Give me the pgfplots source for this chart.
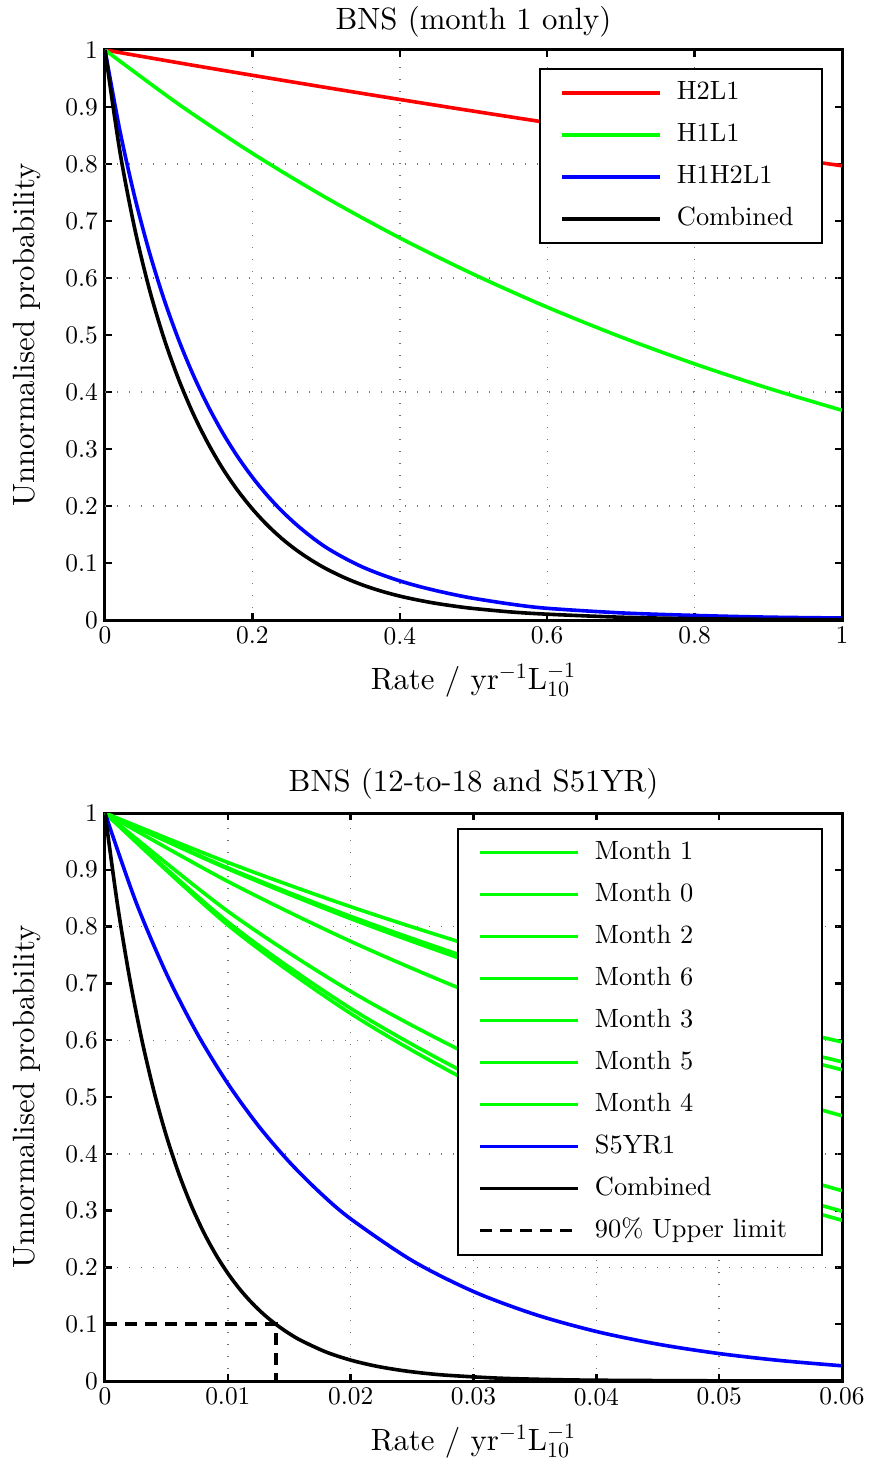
\documentclass[border=0pt]{standalone}
\usepackage{fontspec}
\setmainfont{lmroman10-regular}[Extension=.otf]
\usepackage{pgfplots}
\pgfplotsset{compat=1.18}
\definecolor{mred}{rgb}{1,0,0}
\definecolor{mgreen}{rgb}{0,1,0}
\definecolor{mblue}{rgb}{0,0,1}
\newcommand{\tickfont}{\fontsize{12.7}{15}\selectfont}
\newcommand{\labfont}{\fontsize{15.4}{18}\selectfont}
\newcommand{\legfont}{\fontsize{13.2}{16}\selectfont}
\pgfplotsset{
  mstyle/.style={
    scale only axis, width=368.5pt,
    axis line style={line width=1.5pt},
    tick align=inside,
    major tick length=3.5pt,
    every tick/.style={black,line width=1.2pt},
    tick label style={font=\tickfont},
    xlabel style={font=\labfont, at={([yshift=-34.5pt]axis description cs:0.5,0)}, anchor=base},
    ylabel style={font=\labfont, at={([xshift=-35pt]axis description cs:0,0.5)}, anchor=base, rotate=0},
    title style={font=\labfont, anchor=base},
    xmajorgrids,
    grid style={line width=0.7pt, black!55, dash pattern=on 0.7pt off 5.3pt},
    extra y ticks={0.2,0.4,0.6,0.8},
    extra y tick labels={},
    extra y tick style={grid=major, major tick length=0pt},
    ymin=0, ymax=1,
    ytick={0,0.1,0.2,0.3,0.4,0.5,0.6,0.7,0.8,0.9,1},
    yticklabels={0,0.1,0.2,0.3,0.4,0.5,0.6,0.7,0.8,0.9,1},
    ylabel={Unnormalised probability},
    xlabel={Rate / yr$^{-1}$L$_{10}^{-1}$},
    legend cell align=left,
    legend image code/.code={\draw[##1] (0pt,0pt) -- (49pt,0pt);},
    legend style={draw=black, line width=0.9pt, font=\legfont,
      inner xsep=10pt, inner ysep=5.25pt,
      row sep=7.5pt,
      nodes={inner sep=0pt, text height=10pt, text depth=3.5pt},
      /tikz/every odd column/.append style={column sep=7.5pt}},
  }
}
\begin{document}
\begin{tikzpicture}
\path[use as bounding box] (-52.5pt,-420.5pt) rectangle (382pt,310pt);
\begin{axis}[mstyle, height=285pt, at={(0pt,0pt)}, anchor=south west,
  title={BNS (month 1 only)},
  title style={at={([yshift=4pt]axis description cs:0.5,1)}},
  xmin=0, xmax=1,
  xtick={0,0.2,0.4,0.6,0.8,1}, xticklabels={0,0.2,0.4,0.6,0.8,1},
  legend style={at={(0.974,0.968)}, anchor=north east,
    /tikz/every even column/.append style={text width=62.5pt}}]
\addplot[mred, line width=1.8pt, smooth] coordinates {
(0,1) (0.1,0.9775) (0.2,0.9556) (0.3,0.9342) (0.4,0.9132) (0.5,0.8927)
(0.6,0.8727) (0.7,0.8531) (0.8,0.8339) (0.9,0.8152) (1.0,0.7969)};
\addlegendentry{H2L1}
\addplot[mgreen, line width=1.8pt, smooth] coordinates {
(0,1) (0.1,0.9048) (0.2,0.8187) (0.3,0.7408) (0.4,0.6703) (0.5,0.6065)
(0.6,0.5488) (0.7,0.4966) (0.8,0.4493) (0.9,0.4066) (1.0,0.3679)};
\addlegendentry{H1L1}
\addplot[mblue, line width=1.8pt, smooth] coordinates {
(0,1) (0.02,0.8598) (0.04,0.7439) (0.06,0.6463) (0.08,0.5630) (0.10,0.4913)
(0.12,0.4291) (0.14,0.3750) (0.16,0.3277) (0.18,0.2865) (0.20,0.2504)
(0.22,0.2188) (0.24,0.1911) (0.26,0.1670) (0.28,0.1458) (0.30,0.1273)
(0.325,0.1086) (0.35,0.0926) (0.375,0.0797) (0.40,0.0686) (0.425,0.0593)
(0.45,0.0513) (0.475,0.0442) (0.50,0.038) (0.55,0.028)
(0.60,0.0205) (0.70,0.0125) (0.80,0.008) (0.90,0.005) (1.00,0.0035)};
\addlegendentry{H1H2L1}
\addplot[black, line width=1.8pt, smooth] coordinates {
(0,1) (0.02,0.8235) (0.04,0.6885) (0.06,0.5813) (0.08,0.4942) (0.10,0.4219)
(0.12,0.3610) (0.14,0.3094) (0.16,0.2650) (0.18,0.2273) (0.20,0.1948)
(0.22,0.1668) (0.24,0.1428) (0.26,0.1224) (0.28,0.1050) (0.30,0.0899)
(0.325,0.0742) (0.35,0.0612) (0.375,0.0506) (0.40,0.0419) (0.425,0.0349)
(0.45,0.0290) (0.475,0.0242) (0.50,0.0202) (0.55,0.0142)
(0.60,0.0102) (0.70,0.0049) (0.80,0.0023) (0.90,0.0011) (1.00,0.0005)};
\addlegendentry{Combined}
\end{axis}
\begin{axis}[mstyle, height=284pt, at={(0pt,-380.5pt)}, anchor=south west,
  title={BNS (12-to-18 and S51YR)},
  title style={at={([yshift=5pt]axis description cs:0.5,1)}},
  xmin=0, xmax=0.06, scaled x ticks=false,
  xtick={0,0.01,0.02,0.03,0.04,0.05,0.06},
  xticklabels={0,0.01,0.02,0.03,0.04,0.05,0.06},
  legend style={at={(0.974,0.974)}, anchor=north east,
    /tikz/every even column/.append style={text width=103.5pt}}]
\addplot[mgreen, line width=1.8pt, smooth] coordinates {
(0,1) (0.01,0.9129) (0.02,0.835) (0.03,0.7655) (0.04,0.7032) (0.05,0.6473) (0.06,0.597)};
\addlegendentry{Month 1}
\addplot[mgreen, line width=1.8pt, smooth] coordinates {
(0,1) (0.01,0.9034) (0.02,0.818) (0.03,0.7422) (0.04,0.6750) (0.05,0.6152) (0.06,0.562)};
\addlegendentry{Month 0}
\addplot[mgreen, line width=1.8pt, smooth] coordinates {
(0,1) (0.01,0.9017) (0.02,0.814) (0.03,0.7359) (0.04,0.6662) (0.05,0.6039) (0.06,0.548)};
\addlegendentry{Month 2}
\addplot[mgreen, line width=1.8pt, smooth] coordinates {
(0,1) (0.01,0.8795) (0.02,0.774) (0.03,0.6815) (0.04,0.6005) (0.05,0.5294) (0.06,0.467)};
\addlegendentry{Month 6}
\addplot[mgreen, line width=1.8pt, smooth] coordinates {
(0,1) (0.01,0.8270) (0.02,0.686) (0.03,0.5709) (0.04,0.4765) (0.05,0.3990) (0.06,0.335)};
\addlegendentry{Month 3}
\addplot[mgreen, line width=1.8pt, smooth] coordinates {
(0,1) (0.01,0.8080) (0.02,0.656) (0.03,0.5352) (0.04,0.4386) (0.05,0.3613) (0.06,0.299)};
\addlegendentry{Month 5}
\addplot[mgreen, line width=1.8pt, smooth] coordinates {
(0,1) (0.01,0.8028) (0.02,0.647) (0.03,0.5232) (0.04,0.4247) (0.05,0.3460) (0.06,0.283)};
\addlegendentry{Month 4}
\addplot[mblue, line width=1.8pt, smooth] coordinates {
(0,1) (0.0025,0.8445) (0.005,0.7173) (0.0075,0.6119) (0.01,0.5236) (0.0125,0.4490)
(0.015,0.3857) (0.0175,0.3317) (0.02,0.2855) (0.025,0.2120) (0.03,0.1575)
(0.035,0.1172) (0.04,0.0872) (0.045,0.0649) (0.05,0.0483) (0.055,0.0360) (0.06,0.0268)};
\addlegendentry{S5YR1}
\addplot[black, line width=1.8pt, smooth] coordinates {
(0,1) (0.001,0.8411) (0.002,0.7100) (0.003,0.6006) (0.004,0.5087) (0.005,0.4312)
(0.006,0.3657) (0.007,0.3103) (0.008,0.2632) (0.009,0.2234) (0.010,0.1896)
(0.011,0.1609) (0.012,0.1366) (0.013,0.1159) (0.014,0.0984) (0.015,0.0835)
(0.016,0.0709) (0.018,0.0510) (0.020,0.0368) (0.022,0.0265) (0.024,0.0191)
(0.026,0.0137) (0.028,0.0099) (0.032,0.0051) (0.036,0.0027) (0.040,0.0014)
(0.050,0.0003) (0.060,0.00005)};
\addlegendentry{Combined}
\addplot[black, line width=1.8pt, dash pattern=on 6pt off 4pt] coordinates {
(0,0.1) (0.0139,0.1) (0.0139,0)};
\addlegendentry{90\% Upper limit}
\end{axis}
\end{tikzpicture}
\end{document}
